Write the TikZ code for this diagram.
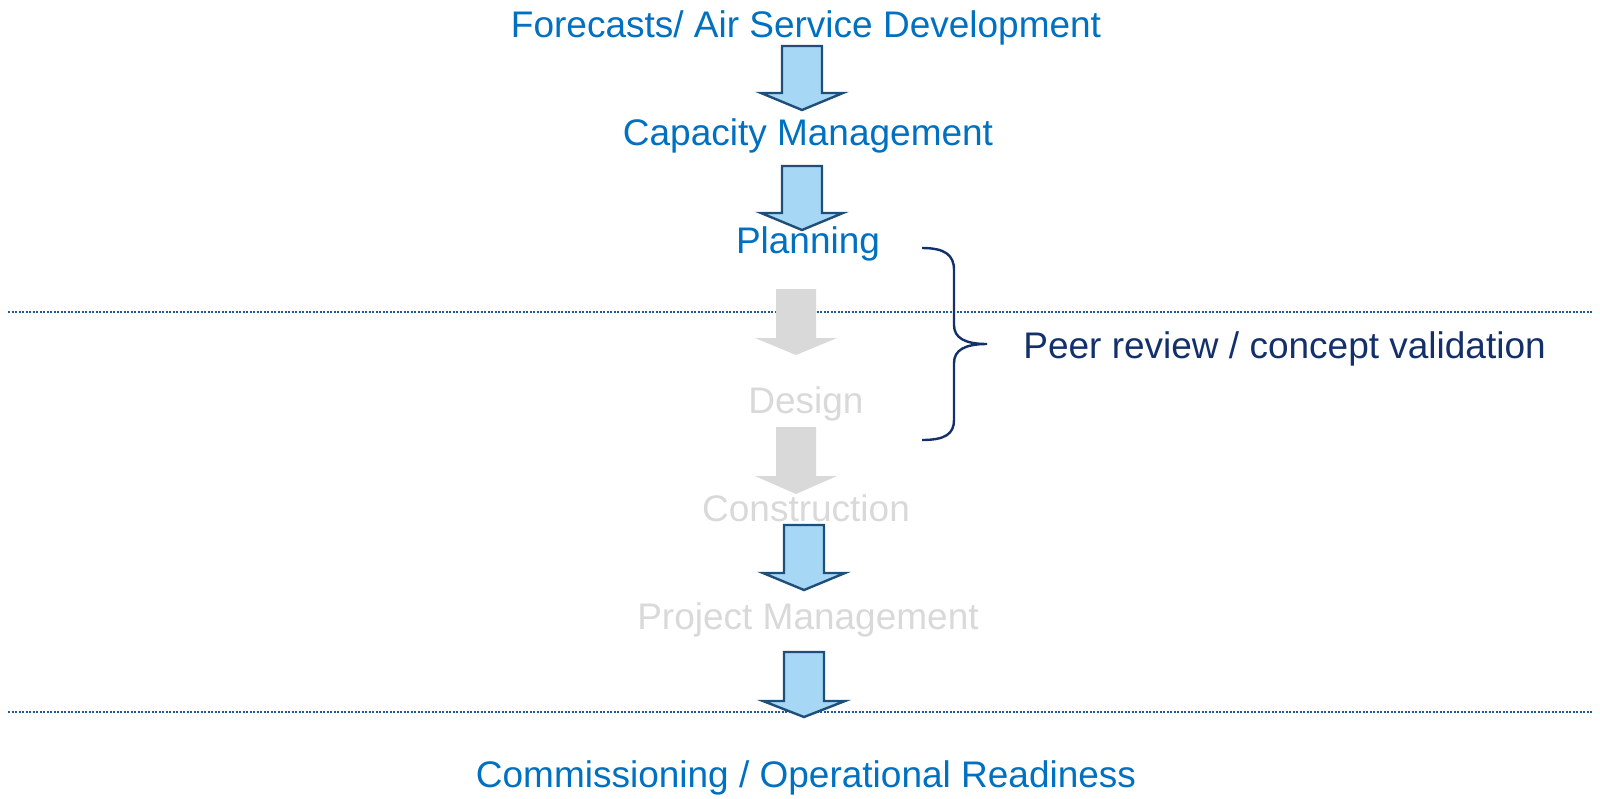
\documentclass[tikz,border=0pt]{standalone}
\usepackage{fontspec}
\setmainfont{Liberation Sans}
\definecolor{tblue}{HTML}{0070C0}
\definecolor{tgray}{HTML}{D9D9D9}
\definecolor{tnavy}{HTML}{13306B}
\definecolor{afill}{HTML}{A6D7F5}
\definecolor{aline}{HTML}{1F4E79}
\definecolor{dline}{HTML}{1F5A96}
\newcommand{\blkarrow}[5]{% style, cx, top, wing, tip
  \draw[#1] (#2-20,#3) -- (#2+20,#3) -- (#2+20,#4) -- (#2+41,#4) -- (#2,#5) -- (#2-41,#4) -- (#2-20,#4) -- cycle;}
\begin{document}
\begin{tikzpicture}[x=0.5pt,y=-0.5pt,
  lbl/.style={anchor=base,inner sep=0pt,font=\fontsize{18.5pt}{22pt}\selectfont},
  bluelbl/.style={lbl,text=tblue},
  graylbl/.style={lbl,text=tgray},
  bluearrow/.style={fill=afill,draw=aline,line width=1.2pt,line join=miter},
  grayarrow/.style={fill=tgray,draw=none},
  sep/.style={draw=dline,line width=1pt,dash pattern=on 1pt off 0.75pt},
  brace/.style={draw=tnavy,line width=1.2pt}]
\useasboundingbox (0,0) rectangle (1600,798);
% separators
\draw[sep] (8,312) -- (1592,312);
\draw[sep] (8,712) -- (1592,712);
% arrows
\blkarrow{bluearrow}{802}{46}{93}{110}
\blkarrow{bluearrow}{802}{166}{213}{230}
\blkarrow{grayarrow}{796}{289}{338}{355}
\blkarrow{grayarrow}{796}{427}{476}{494}
\blkarrow{bluearrow}{804}{525}{573}{590}
\blkarrow{bluearrow}{804}{652}{701}{717}
% labels
\node[bluelbl] (fc) at (806,37) {Forecasts/ Air Service Development};
\node[bluelbl] (cm) at (808,145) {Capacity Management};
\node[bluelbl] (pl) at (808,253) {Planning};
\node[graylbl] (de) at (806,413) {Design};
\node[graylbl] (co) at (806,521) {Construction};
\node[graylbl] (pm) at (808,629) {Project Management};
\node[bluelbl] (cr) at (806,787) {Commissioning / Operational Readiness};
\node[lbl,anchor=base west,text=tnavy] (pr) at (1023,358) {Peer review / concept validation};
% brace
\path[brace] (922,248) .. controls (945,248) and (954,255) .. (954,270) -- (954,325)
  .. controls (954,338) and (965,344) .. (987,344)
  .. controls (965,344) and (954,350) .. (954,363) -- (954,420)
  .. controls (954,434) and (945,440) .. (922,440);
\end{tikzpicture}
\end{document}
